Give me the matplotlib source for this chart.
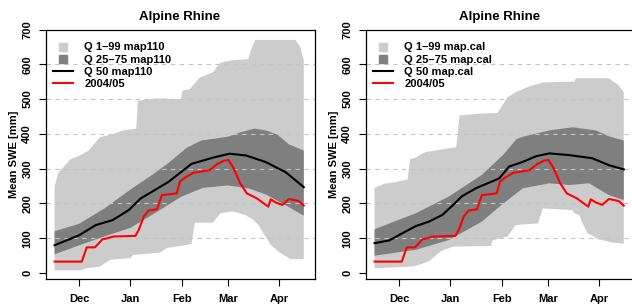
import numpy as np
import matplotlib
matplotlib.use("Agg")
import matplotlib.pyplot as plt
from matplotlib.lines import Line2D

plt.rcParams['font.family'] = ['Liberation Sans', 'DejaVu Sans']
plt.rcParams['font.weight'] = 'bold'

# days counted from Nov 1
month_days = [30, 61, 92, 120, 151]
month_labels = ["Dec", "Jan", "Feb", "Mar", "Apr"]
y_ticks = [0, 100, 200, 300, 400, 500, 600, 700]

### left panel (map110)
q99_l_day = [15, 17.5, 22.5, 24.5, 30.5, 35.5, 42.5, 50.5, 56.5, 64.5, 65.5, 77, 91.5, 92.5, 97, 103, 111, 115.5, 123, 132.5, 133.5, 136.5, 161, 164, 166]
q99_l = [250, 290, 315, 327, 338, 352, 390, 400, 410, 415, 496, 502, 500, 524, 529, 562, 577, 605, 612, 615, 634, 670, 670, 648, 610]
q01_l_day = [15, 30.5, 34.5, 42.5, 48.5, 61, 62.5, 79, 83, 91, 98, 100, 111, 115.5, 123, 130.5, 135.5, 138.5, 141.5, 146, 152, 158, 166]
q01_l = [8, 8, 14, 19, 38, 43, 52, 59, 72, 78, 84, 145, 145, 172, 177, 167, 153, 138, 115, 81, 57, 40, 40]
q75_l_day = [15, 30, 45, 61, 75, 85, 95, 104, 120, 128, 136, 143, 150, 157, 166]
q75_l = [120, 142, 185, 240, 285, 320, 360, 381, 392, 405, 415, 410, 398, 370, 352]
q25_l_day = [15, 30, 45, 61, 75, 92, 105, 120, 133, 143, 155, 166]
q25_l = [54, 80, 105, 130, 170, 220, 245, 252, 243, 226, 195, 165]
q50_l_day = [15, 30, 40, 50, 60, 67, 84, 98, 112, 121, 131, 143, 155, 166]
q50_l = [80, 109, 138, 152, 181, 214, 262, 314, 333, 343, 338, 319, 290, 247]

### right panel (map.cal)
q99_r_day = [15, 21, 26, 35, 36.5, 40, 44, 46, 64.5, 66.5, 78, 89.5, 95.5, 100.5, 108.5, 117, 136, 137, 157, 163, 166]
q99_r = [245, 257, 260, 269, 327, 332, 344, 348, 362, 453, 458, 460, 505, 520, 536, 548, 550, 560, 560, 539, 520]
q01_r_day = [15, 38, 42, 48, 55, 57, 63, 85.5, 86.5, 95.5, 100.5, 114, 117, 135, 136, 139, 141, 144, 151, 159, 166]
q01_r = [14, 19, 24, 34, 62, 67, 76, 78, 94, 105, 138, 143, 186, 181, 172, 167, 143, 115, 97, 88, 84]
q75_r_day = [15, 40, 60, 80, 93, 101, 105, 121, 135, 149, 157, 166]
q75_r = [126, 172, 220, 282, 340, 385, 392, 410, 419, 410, 393, 381]
q25_r_day = [15, 40, 60, 80, 93, 105, 121, 133, 145, 157, 166]
q25_r = [50, 67, 95, 148, 200, 244, 258, 253, 258, 224, 210]
q50_r_day = [15, 24, 32, 40, 48, 56, 62, 68, 76.5, 84.5, 90.5, 96.5, 105, 113, 121, 133, 147, 157, 166]
q50_r = [86, 94, 115, 135, 148, 167, 193, 221, 244, 260, 272, 306, 320, 336, 344, 339, 330, 310, 298]

### observed winter 2004/05 (same in both panels)
obs_day = [15, 31.5, 34.5, 39.5, 44, 47, 50.5, 64, 66, 69, 72, 77, 80, 89, 91, 94, 99, 109, 113.5, 117.5, 120.5, 123.5, 127.5, 131.5, 137.5, 144.5, 146, 149, 153, 157, 163, 166]
obs = [33, 33, 74, 74, 97, 100, 105, 107, 124, 162, 180, 183, 224, 229, 263, 274, 288, 296, 313, 323, 325, 301, 258, 229, 215, 191, 212, 203, 196, 213, 207, 194]

light = "#cccccc"
dark = "#7f7f7f"
fs = 8

fig = plt.figure(figsize=(6.32, 3.06), dpi=100)
ax_l = fig.add_axes([45.5 / 632, 27 / 306, 269 / 632, 249.5 / 306])
ax_r = fig.add_axes([365.5 / 632, 27 / 306, 269 / 632, 249.5 / 306])


def band(ax, xu, yu, xl, yl, color):
    ax.fill(np.r_[xu, xl[::-1]], np.r_[yu, yl[::-1]], color=color, lw=0, zorder=1)


panels = [
    (ax_l, "map110", q99_l_day, q99_l, q01_l_day, q01_l, q75_l_day, q75_l, q25_l_day, q25_l, q50_l_day, q50_l),
    (ax_r, "map.cal", q99_r_day, q99_r, q01_r_day, q01_r, q75_r_day, q75_r, q25_r_day, q25_r, q50_r_day, q50_r),
]

for ax, name, xu, yu, xl, yl, x75, y75, x25, y25, x50, y50 in panels:
    band(ax, np.array(xu), np.array(yu), np.array(xl), np.array(yl), light)
    band(ax, np.array(x75), np.array(y75), np.array(x25), np.array(y25), dark)
    for yv in y_ticks[1:-1]:
        ax.axhline(yv, color="#c4c4c4", lw=0.8, ls=(0, (4, 4)), zorder=2)
    ax.plot(x50, y50, color="black", lw=1.5, zorder=3)
    ax.plot(obs_day, obs, color="red", lw=1.5, zorder=4)

    ax.set_xlim(9.5, 172.5)
    ax.set_ylim(-17, 700)
    ax.set_xticks(month_days)
    ax.set_xticklabels(month_labels)
    ax.set_yticks(y_ticks)
    ax.set_yticklabels([str(v) for v in y_ticks], rotation=90, va="center")
    ax.tick_params(axis="x", length=5, width=0.8, pad=5.5, labelsize=fs)
    ax.tick_params(axis="y", length=5, width=0.8, pad=4.5, labelsize=fs)
    for sp in ax.spines.values():
        sp.set_linewidth(0.9)
    ax.set_ylabel("Mean SWE [mm]", fontsize=fs, fontweight="bold", labelpad=2.5)
    ax.set_title("Alpine Rhine", fontsize=9.5, fontweight="bold", pad=6.5)

    handles = [
        Line2D([], [], marker="s", ls="none", color=light, markersize=6),
        Line2D([], [], marker="s", ls="none", color=dark, markersize=6),
        Line2D([], [], color="black", lw=1.5),
        Line2D([], [], color="red", lw=1.5),
    ]
    labels = ["Q 1\u201399 " + name, "Q 25\u201375 " + name, "Q 50 " + name, "2004/05"]
    ax.legend(handles, labels, loc="upper left", bbox_to_anchor=(0.027, 0.948),
              frameon=False, borderpad=0, borderaxespad=0,
              handlelength=1.85, handletextpad=1.0, labelspacing=0.2,
              prop={"weight": "bold", "size": fs})

fig.savefig("out.png", dpi=100)
